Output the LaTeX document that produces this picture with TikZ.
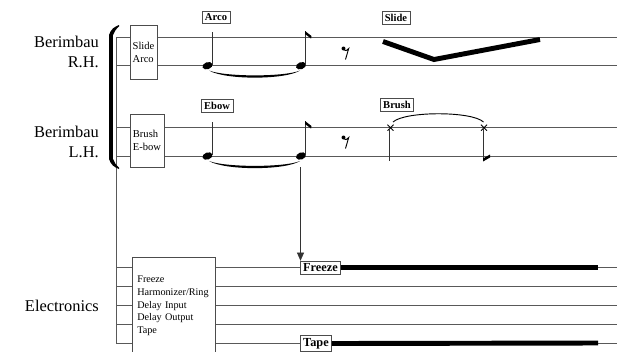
\documentclass[tikz,border=0pt]{standalone}
\usepackage{fontspec}
\setmainfont{Liberation Serif}
\usetikzlibrary{arrows.meta}

\tikzset{
  staffline/.style={draw=black!65, line width=0.45pt},
  techbox/.style={draw=black!70, fill=white, line width=0.45pt, align=left, inner sep=2pt, font=\fontsize{9}{11}\selectfont},
  cue/.style={draw=black!70, fill=white, line width=0.45pt, inner xsep=2.5pt, inner ysep=2.2pt, font=\bfseries\fontsize{9}{10}\selectfont},
  part/.style={align=right, anchor=east, inner sep=0pt, font=\fontsize{14}{17}\selectfont},
  stem/.style={draw=black!80, line width=0.5pt},
  gliss/.style={line width=4.2pt, line join=miter},
}
\newcommand{\nhead}[1]{\fill[rotate around={20:(#1)}] (#1) ellipse (0.155cm and 0.105cm);}
\newcommand{\eighthrest}[1]{\begin{scope}[shift={(#1)}]
  \fill (0,0) circle (1.7pt);
  \draw[line width=0.8pt] (0.3,1.3) .. controls (2.5,2.5) .. (5.2,0) -- (2,11);
\end{scope}}
\newcommand{\xhead}[1]{\draw[line width=0.7pt] ([shift={(-3,-3)}]#1) -- ([shift={(3,3)}]#1) ([shift={(-3,3)}]#1) -- ([shift={(3,-3)}]#1);}

\begin{document}
\begin{tikzpicture}[x=0.03cm,y=-0.03cm]
	\useasboundingbox (0,0) rectangle (617,351);
	% staves
	\foreach \y in {37.7,65.7,127.7,156,267.7,286.7,305.3,324.3,343}
		\draw[staffline] (116,\y) -- (617,\y);
	\draw[staffline] (116,37.7) -- (116,343);
	% bracket
	\fill (109,35) rectangle (113,159);
	\fill (109,35) .. controls (111,29) and (114,27) .. (119,25) -- (119,26.5) .. controls (116,29) and (114,32) .. (113,35) -- cycle;
	\fill (109,159) .. controls (111,165) and (114,167) .. (119,169) -- (119,167.5) .. controls (116,165) and (114,162) .. (113,159) -- cycle;
	% parts
	\node[part] (rh) at (99,52) {Berimbau\\R.H.};
	\node[part] (lh) at (99,142) {Berimbau\\L.H.};
	\node[part] (el) at (99,306) {Electronics};
	% technique boxes
	\node[techbox, minimum width=0.81cm, minimum height=1.62cm] (rhtech) at (143.5,52) {Slide\\Arco};
	\node[techbox, minimum width=1.02cm, minimum height=1.59cm] (lhtech) at (147,140.5) {Brush\\E-bow};
	\node[techbox, inner xsep=4pt, text width=2.2cm, minimum height=2.94cm, font=\fontsize{8.7}{10.8}\selectfont] (fxtech) at (174,306) {Freeze\\Harmonizer/Ring\\Delay Input\\Delay Output\\Tape};
	% cues
	\node[cue] (arco) at (216,17.5) {Arco};
	\node[cue] (slide) at (396,18) {Slide};
	\node[cue] (ebow) at (217,106) {Ebow};
	\node[cue] (brush) at (397,104.5) {Brush};
	\node[cue, anchor=west, font=\bfseries\fontsize{10.5}{11}\selectfont] (freeze) at (300,267.7) {Freeze};
	\node[cue, anchor=west, font=\bfseries\fontsize{10.5}{11}\selectfont] (tape) at (300,343.5) {Tape};
	% right hand
	\coordinate (rha) at (207.5,65.7);
	\coordinate (rhb) at (301,65.7);
	\nhead{rha} \nhead{rhb}
	\draw[stem] (211.8,65) -- (211.8,32);
	\draw[stem] (305.3,65) -- (305.3,31);
	\fill (305,31) -- (311.5,36) -- (311,38.5) -- (305,34) -- cycle;
	\fill (209,70.5) .. controls (225,80) and (285,80) .. (300,70.5) .. controls (285,77) and (225,77) .. (209,70.5) -- cycle;
	\coordinate (rhrest) at (343.5,48.5);
	\eighthrest{rhrest}
	\coordinate (sla) at (383,41.5);
	\coordinate (slb) at (434,59.5);
	\coordinate (slc) at (540,39.5);
	\draw[gliss] (sla) -- (slb) -- (slc);
	% left hand
	\coordinate (lha) at (207.5,156);
	\coordinate (lhb) at (301,156);
	\nhead{lha} \nhead{lhb}
	\draw[stem] (211.8,155) -- (211.8,122);
	\draw[stem] (305.3,155) -- (305.3,121);
	\fill (305,121) -- (311.5,126) -- (311,128.5) -- (305,124) -- cycle;
	\fill (209,161) .. controls (225,170.5) and (285,170.5) .. (300,161) .. controls (285,167.5) and (225,167.5) .. (209,161) -- cycle;
	\coordinate (lhrest) at (343.5,137.5);
	\eighthrest{lhrest}
	\coordinate (bra) at (390.5,127.7);
	\coordinate (brb) at (484,127.7);
	\xhead{bra} \xhead{brb}
	\draw[stem] (389.5,127.7) -- (389.5,161);
	\draw[stem] (483,127.7) -- (483,160);
	\fill (483,161.5) -- (490,157.5) -- (490,154.5) -- (483,158.5) -- cycle;
	\draw[line width=0.8pt] (393,122) .. controls (405,111) and (472,111) .. (483.5,122);
	% cue to electronics
	\coordinate (ebtail) at (300.5,167);
	\draw[stem, -{Triangle[length=7pt, width=6pt]}] (ebtail) -- (ebtail |- freeze.north);
	% electronics
	\coordinate (freezeend) at (598,267.7);
	\coordinate (tapeend) at (598,343);
	\draw[gliss] (freeze.east) -- (freezeend);
	\draw[gliss] (tape.east) -- (tapeend);
\end{tikzpicture}
\end{document}
